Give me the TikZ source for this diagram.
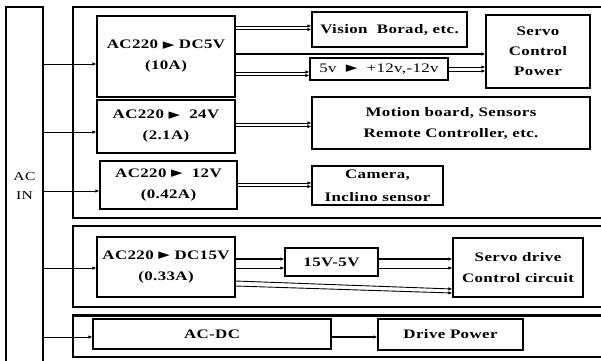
\documentclass[tikz,border=0pt]{standalone}
\usepackage{fontspec}
\setmainfont{Liberation Serif}[FakeStretch=1.3,LetterSpace=3]
\newfontfamily\symfont{DejaVu Sans}
\usetikzlibrary{arrows.meta}
\newcommand\ptr{\smash{\raisebox{-0.3pt}{\symfont\fontsize{15}{15}\selectfont ►}}}
\begin{document}
\begin{tikzpicture}[x=1pt,y=-1pt,
  box/.style={draw, line width=1.2pt, inner sep=0pt, align=center, font=\bfseries\fontsize{13}{21}\selectfont},
  frame/.style={line width=1.7pt},
  arr/.style={-{Latex[length=4pt,width=3.5pt]}, line width=0.9pt},
  thk/.style={arr, line width=1.7pt},
]
\clip (0,0) rectangle (601,360);
% group frames
\draw[frame] (73,7) rectangle (620,218);
\draw[frame] (73,226) rectangle (620,307);
\draw[frame] (73,315) rectangle (620,357);
\draw[line width=2.6pt] (73,315.5) -- (620,315.5);
% AC IN
\node[box, font=\fontsize{12}{19}\selectfont, minimum width=37, minimum height=359] (acin) at (24.5,186.5) {AC\\IN};
% group 1
\node[box, minimum width=138, minimum height=81] (dc5) at (166,56.5) {AC220 \ptr\ DC5V\\(10A)};
\node[box, minimum width=138, minimum height=53] (v24) at (166,126.5) {AC220 \ptr\ \ 24V\\(2.1A)};
\node[box, minimum width=137, minimum height=48] (v12) at (168.5,185) {AC220 \ptr\ \ 12V\\(0.42A)};
\node[box, minimum width=155, minimum height=35] (vision) at (389.5,29.5) {Vision\ \ Borad, etc.};
\node[box, minimum width=104, minimum height=73, font=\bfseries\fontsize{13}{20}\selectfont] (servoc) at (538,51.5) {Servo\\Control\\Power};
\node[box, minimum width=138, minimum height=22, font=\fontsize{13}{14}\selectfont] (conv) at (379,69) {5v \ \ptr\ \ +12v,-12v};
\node[box, minimum width=278, minimum height=52] (motion) at (451,123) {Motion board, Sensors\\Remote Controller, etc.};
\node[box, minimum width=131, minimum height=39, font=\bfseries\fontsize{13}{23}\selectfont] (camera) at (377.5,185.5) {Camera,\\Inclino sensor};
% group 2
\node[box, minimum width=138, minimum height=60] (dc15) at (166,267) {AC220 \ptr\ DC15V\\(0.33A)};
\node[box, minimum width=93, minimum height=28] (v155) at (331.5,262) {15V-5V};
\node[box, minimum width=130, minimum height=59] (servod) at (518,267.5) {Servo drive\\Control circuit};
% group 3
\node[box, minimum width=238, minimum height=30] (acdc) at (212,334) {AC-DC};
\node[box, minimum width=145, minimum height=31] (drive) at (450.5,334.5) {Drive Power};
% AC IN feeds
\draw[arr] (acin.east |- 0,64) -- (dc5.west |- 0,64);
\draw[arr] (acin.east |- 0,132) -- (v24.west |- 0,132);
\draw[arr] (acin.east |- 0,191) -- (v12.west |- 0,191);
\draw[arr] (acin.east |- 0,268) -- (dc15.west |- 0,268);
\draw[arr] (acin.east |- 0,337) -- (acdc.west |- 0,337);
% group 1 connectors
\draw[arr] (dc5.east |- 0,26) -- (vision.west |- 0,26);
\draw[arr] (dc5.east |- 0,29.5) -- (vision.west |- 0,29.5);
\draw[thk] (dc5.east |- 0,54) -- (servoc.west |- 0,54);
\draw[arr] (dc5.east |- 0,72) -- (conv.west |- 0,72);
\draw[arr] (dc5.east |- 0,75.5) -- (conv.west |- 0,75.5);
\draw[arr] (conv.east |- 0,67) -- (servoc.west |- 0,67);
\draw[arr] (conv.east |- 0,71) -- (servoc.west |- 0,71);
\draw[arr] (v24.east |- 0,123) -- (motion.west |- 0,123);
\draw[arr] (v24.east |- 0,126.5) -- (motion.west |- 0,126.5);
\draw[arr] (v12.east |- 0,183) -- (camera.west |- 0,183);
\draw[arr] (v12.east |- 0,186.5) -- (camera.west |- 0,186.5);
% group 2 connectors
\draw[thk] (dc15.east |- 0,259) -- (v155.west |- 0,259);
\draw[arr] (dc15.east |- 0,268) -- (v155.west |- 0,268);
\draw[thk] (v155.east |- 0,259) -- (servod.west |- 0,259);
\draw[arr] (v155.east |- 0,268) -- (servod.west |- 0,268);
\draw[arr] (dc15.east |- 0,281) -- (servod.west |- 0,289);
\draw[arr] (dc15.east |- 0,286) -- (servod.west |- 0,293);
% group 3 connector
\draw[arr, line width=1.3pt] (acdc.east |- 0,337) -- (drive.west |- 0,337);
\end{tikzpicture}
\end{document}
